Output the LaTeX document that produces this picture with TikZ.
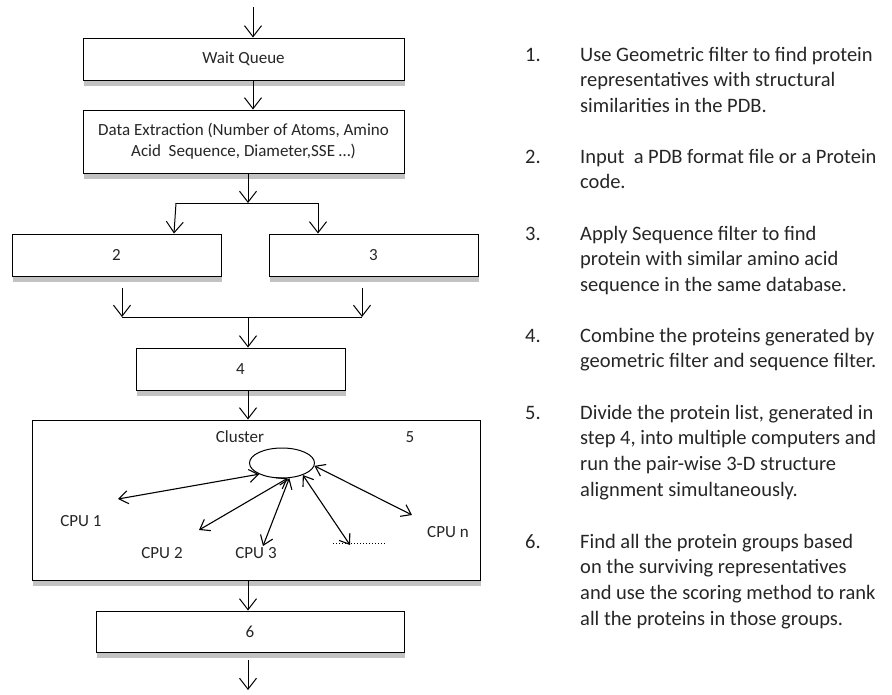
\documentclass[tikz,border=0pt]{standalone}
\usepackage{fontspec}
\setmainfont{Carlito}
\usetikzlibrary{arrows.meta,calc,positioning,shapes.geometric,shadows}
\definecolor{tinta}{rgb}{0.15,0.15,0.15}
\definecolor{sombra}{rgb}{0.6,0.6,0.6}
\tikzset{
  bloque/.style={
    draw=black,
    line width=1pt,
    fill=white,
    align=center,
    inner sep=2pt,
    text=tinta,
    font=\fontsize{17}{21}\selectfont,
    drop shadow={shadow xshift=1pt, shadow yshift=-6pt, fill=sombra, opacity=.6}
  },
  arrow/.style={
    -{Straight Barb[length=11pt,width=17pt]},
    line width=1pt
  },
  doble/.style={
    {Straight Barb[length=9pt,width=13pt]}-{Straight Barb[length=9pt,width=13pt]},
    line width=1.1pt
  },
  etiqueta/.style={
    inner sep=0pt,
    text=tinta,
    font=\fontsize{17}{21}\selectfont
  },
  numero/.style={
    anchor=base west,
    inner sep=0pt,
    text=tinta,
    font=\fontsize{20.5}{25.7}\selectfont
  },
  nota/.style={
    numero,
    align=left
  }
}

\begin{document}
\begin{tikzpicture}[x=1pt,y=-1pt]
\useasboundingbox (0,0) rectangle (892,694);
% cajas del flujo
\node[bloque, minimum width=321pt, minimum height=42pt] (wq) at (243.5,59) {Wait Queue};
\node[bloque, minimum width=321pt, minimum height=63pt] (de) at (243.5,141.5) {Data Extraction (Number of Atoms, Amino\\Acid\ \ Sequence, Diameter,SSE …)};
\node[bloque, minimum width=209pt, minimum height=42pt] (b2) at (116.5,255) {2};
\node[bloque, minimum width=209pt, minimum height=42pt] (b3) at (373.5,255) {3};
\node[bloque, minimum width=209pt, minimum height=42pt] (b4) at (240.5,369) {4};
\node[bloque, minimum width=448pt, minimum height=160pt] (b5) at (256,500) {};
\node[bloque, minimum width=308pt, minimum height=41pt] (b6) at (250,631.5) {6};

% entrada, bifurcacion y union
\coordinate (in) at (253,7);
\coordinate (split) at (248,203);
\coordinate (merge) at (248,317);
\coordinate (out) at (248,690);
\draw[arrow] (in) -- (in |- wq.north);
\draw[arrow] (wq.south -| in) -- (de.north -| in);
\draw[arrow] (de.south -| split) -- (split);
\draw[arrow] ($(split)+(-72,0)$) -- ($(b2.north)+(57.5,0)$);
\draw[arrow] ($(split)+(70,0)$) -- ($(b3.north)+(-55.5,0)$);
\draw ($(split)+(-72,0)$) -- ($(split)+(70,0)$);
\draw[arrow] ($(b2.south)+(5.5,11)$) -- ($(b2.south |- merge)+(5.5,0)$);
\draw[arrow] ($(b3.south)+(-11.5,11)$) -- ($(b3.south |- merge)+(-11.5,0)$);
\draw ($(b2.south |- merge)+(5.5,0)$) -- ($(b3.south |- merge)+(-11.5,0)$);
\draw[arrow] (merge) -- (merge |- b4.north);
\draw[arrow] (b4.south -| merge) -- (b5.north -| merge);
\draw[arrow] (b5.south -| merge) -- (b6.north -| merge);
\draw[arrow] ($(b6.south -| out)+(0,7)$) -- (out);

% cluster
\node[etiqueta] (cl) at (240,437) {Cluster};
\node[etiqueta] (n5) at (410,437) {5};
\node[draw, line width=1pt, ellipse, minimum width=65pt, minimum height=30pt] (hub) at (282,463) {};
\node[etiqueta] (cpu1) at (81,521) {CPU 1};
\node[etiqueta] (cpu2) at (162,553) {CPU 2};
\node[etiqueta] (cpu3) at (256,553) {CPU 3};
\node[etiqueta] (cpun) at (448,532) {CPU n};
\coordinate (e1) at (118,499);
\coordinate (e2) at (199,530);
\coordinate (e3) at (263,546);
\coordinate (e4) at (350,545);
\coordinate (en) at (412,515);
\draw[doble] (hub.206) -- (e1);
\draw[doble] (hub.290) -- (e2);
\draw[doble] (hub.296) -- (e3);
\draw[doble] (hub.330) -- (e4);
\draw[doble] (hub.355) -- (en);
\draw[dotted, line width=1pt] (333,543) -- (387,543);

% pasos (base = ultima linea)
\node[numero] (p1) at (525,61) {1.};
\node[nota] (t1) at (580,112.4) {Use Geometric filter to find protein\\representatives with structural\\similarities in the PDB.};
\node[numero] (p2) at (525,163) {2.};
\node[nota] (t2) at (580,188.7) {Input\ \ a PDB format file or a Protein\\code.};
\node[numero] (p3) at (525,240) {3.};
\node[nota] (t3) at (580,291.4) {Apply Sequence filter to find\\protein with similar amino acid\\sequence in the same database.};
\node[numero] (p4) at (525,342) {4.};
\node[nota] (t4) at (580,367.7) {Combine the proteins generated by\\geometric filter and sequence filter.};
\node[numero] (p5) at (525,419) {5.};
\node[nota] (t5) at (580,496.1) {Divide the protein list, generated in\\step 4, into multiple computers and\\run the pair-wise 3-D structure\\alignment simultaneously.};
\node[numero] (p6) at (525,548) {6.};
\node[nota] (t6) at (580,625.1) {Find all the protein groups based\\on the surviving representatives\\and use the scoring method to rank\\all the proteins in those groups.};
\end{tikzpicture}
\end{document}
